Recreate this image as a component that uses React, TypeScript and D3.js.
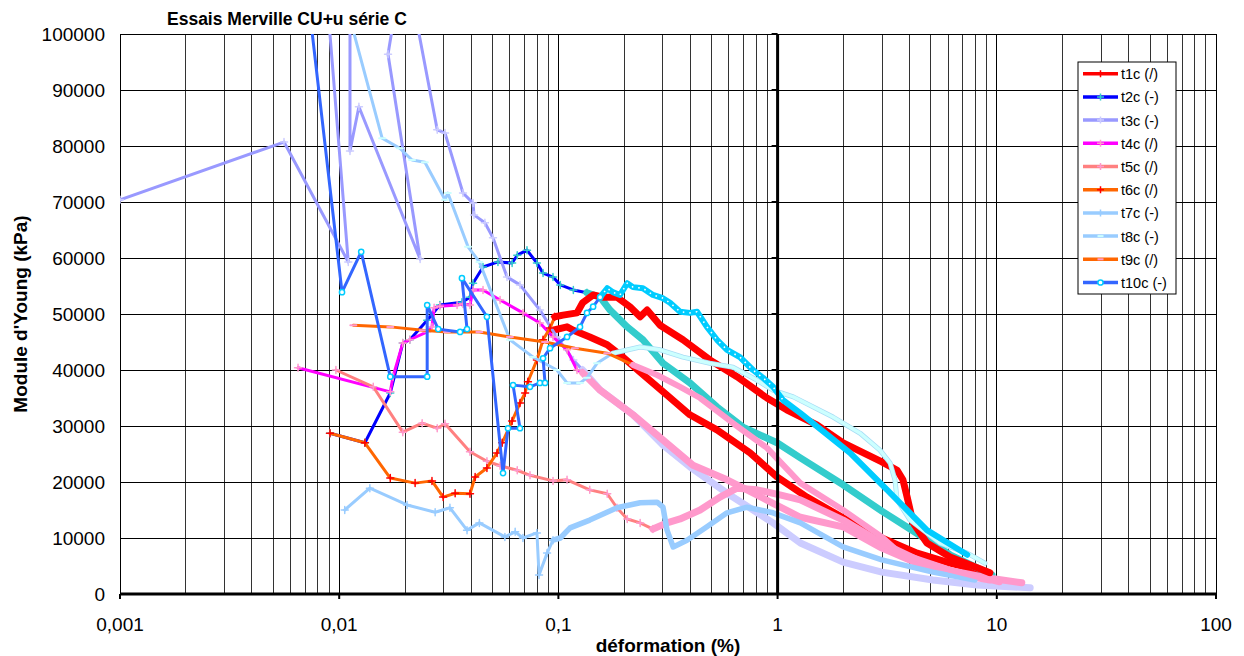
import React from 'react';
import * as d3 from 'd3';

type P = [number, number];

const titleText = 'Essais Merville CU+u série C';
const xAxisTitle = 'déformation (%)';
const yAxisTitle = "Module d'Young (kPa)";
const xTickValues = [0.001, 0.01, 0.1, 1, 10, 100];
const xTickLabels = ['0,001', '0,01', '0,1', '1', '10', '100'];
const yTickValues = [0, 10000, 20000, 30000, 40000, 50000, 60000, 70000, 80000, 90000, 100000];

const t1cSparse: P[] = [];
const t1cDense: P[] = [[0.0945, 47100], [0.1095, 47700], [0.117, 47100], [0.139, 45900], [0.167, 44500], [0.197, 42300], [0.236, 39600], [0.313, 35500], [0.398, 32000], [0.529, 29300], [0.749, 25200], [0.994, 20900], [1.36, 17300], [1.99, 13600], [2.99, 10000], [4.33, 7300], [6.12, 5500], [8.83, 3900]];

const t2cSparse: P[] = [[0.00908, 28700], [0.0131, 27000], [0.0171, 35900], [0.0195, 44800], [0.021, 45400], [0.0252, 48900], [0.0288, 51600], [0.0363, 52100], [0.0395, 53000], [0.0408, 55500], [0.0453, 58400], [0.053, 59300], [0.0615, 59100], [0.0649, 60500], [0.0719, 61400], [0.0798, 59100], [0.0851, 57300], [0.0945, 56600], [0.102, 55200], [0.117, 54300], [0.135, 53800]];
const t2cDense: P[] = [[0.155, 53000], [0.172, 50700], [0.206, 47700], [0.243, 45400], [0.3, 41200], [0.398, 37700], [0.529, 33400], [0.695, 29800], [0.994, 27000], [1.27, 24300], [1.99, 19500], [2.99, 14800], [4.02, 11600], [6.12, 7000], [9.51, 3400]];

const t3cSparse: P[] = [[0.001, 70400], [0.0056, 80700], [0.011, 59300], [0.0081, 124000], [0.0112, 120000], [0.0112, 79100], [0.0123, 87000], [0.0234, 59800], [0.0167, 96400], [0.0198, 114000], [0.028, 82900], [0.0304, 82300], [0.0367, 71600], [0.0408, 69800], [0.0412, 67700], [0.0462, 66300], [0.0503, 63600], [0.0583, 56600], [0.0668, 55200], [0.0824, 50700], [0.0984, 45900], [0.117, 41800], [0.129, 40000]];
const t3cDense: P[] = [[0.155, 36400], [0.219, 32000], [0.3, 26600], [0.398, 22700], [0.588, 18000], [0.953, 12700], [1.27, 9100], [1.99, 5700], [2.99, 3900], [5.11, 2500], [8.12, 1600], [14.2, 1100]];

const t4cSparse: P[] = [[0.00649, 40400], [0.0171, 36100], [0.0176, 38800], [0.0195, 44800], [0.021, 45400], [0.0252, 46800], [0.0265, 47700], [0.0271, 51100], [0.0288, 51400], [0.0345, 51600], [0.0367, 51800], [0.0395, 51600], [0.0408, 54300], [0.0453, 54300], [0.0542, 52500], [0.0689, 50200], [0.0824, 48400], [0.0945, 45900], [0.1095, 43600], [0.1216, 40000], [0.129, 39500]];
const t4cDense: P[] = [[0.155, 36400], [0.219, 32000], [0.3, 27500], [0.411, 23000], [0.588, 20400], [0.725, 18600], [0.953, 16200], [1.27, 13700], [1.99, 12000], [2.99, 8200], [5.11, 4300], [9.3, 2500]];

const t5cSparse: P[] = [[0.00966, 40000], [0.0143, 37000], [0.0195, 28900], [0.0239, 30500], [0.028, 29600], [0.0304, 30400], [0.0395, 25400], [0.0472, 23700], [0.0542, 22900], [0.0649, 22100], [0.0742, 21200], [0.0945, 20200], [0.1095, 20400], [0.139, 18600], [0.167, 17900], [0.185, 15400], [0.206, 13400], [0.236, 12700], [0.27, 11600]];
const t5cDense: P[] = [[0.313, 12700], [0.359, 13400], [0.443, 15000], [0.546, 17300], [0.653, 18900], [0.806, 18600], [1.025, 17700], [1.27, 16800], [1.99, 13200], [2.99, 9100], [5.11, 4800], [9.0, 2900], [13.0, 2000]];

const t6cSparse: P[] = [[0.00908, 28700], [0.0131, 27000], [0.0171, 20700], [0.0222, 19800], [0.0265, 20200], [0.0298, 17300], [0.0338, 18000], [0.0395, 17900], [0.0417, 20900], [0.0472, 22500], [0.0525, 25200], [0.0554, 27000], [0.0615, 30900], [0.0668, 34100], [0.0705, 35900], [0.0726, 37900], [0.0798, 41800], [0.0851, 45400], [0.0916, 47500], [0.0963, 49500]];
const t6cDense: P[] = [[0.105, 49800], [0.1216, 50200], [0.129, 52000], [0.144, 53400], [0.16, 53000], [0.185, 53000], [0.212, 51300], [0.236, 49500], [0.254, 50700], [0.291, 48000], [0.37, 45400], [0.491, 41800], [0.653, 38800], [0.894, 35000], [1.1, 32900], [1.51, 30200], [1.99, 27000], [2.99, 23600], [3.51, 22100], [3.73, 20400], [3.9, 17300], [4.15, 12700], [4.8, 9100], [6.12, 6600], [9.3, 3800]];

const t7cSparse: P[] = [[0.0106, 15000], [0.0138, 18900], [0.0204, 15900], [0.0274, 14600], [0.032, 15400], [0.0383, 11400], [0.0436, 12700], [0.057, 10200], [0.0635, 11100], [0.0689, 10000], [0.0798, 10900], [0.0816, 3400], [0.0888, 7300], [0.0945, 9600]];
const t7cDense: P[] = [[0.102, 10000], [0.113, 11800], [0.139, 13200], [0.185, 15400], [0.236, 16300], [0.282, 16400], [0.3, 15500], [0.313, 11400], [0.334, 8400], [0.386, 9600], [0.476, 12000], [0.588, 14500], [0.725, 15500], [0.953, 14500], [1.27, 12700], [1.99, 8400], [2.99, 6100], [5.11, 3900], [7.95, 2500]];

const t8cSparse: P[] = [[0.008, 124000], [0.0157, 81400], [0.0189, 79600], [0.0215, 77500], [0.0246, 77100], [0.0304, 70400], [0.0313, 71600], [0.0387, 62000], [0.0436, 59300], [0.0601, 45400], [0.0767, 42300], [0.0984, 40000], [0.1095, 37700], [0.1255, 37700], [0.135, 38600], [0.15, 41200], [0.177, 43000]];
const t8cDense: P[] = [[0.236, 44100], [0.291, 43600], [0.37, 42300], [0.491, 41200], [0.626, 40500], [0.788, 38400], [0.953, 36400], [1.18, 35200], [1.79, 31600], [2.38, 28700], [2.93, 25700], [3.26, 23400], [3.43, 20400], [3.51, 16800], [4.02, 13200], [5.51, 9100], [7.33, 7300], [8.83, 5500]];

const t9cSparse: P[] = [[0.0116, 48000], [0.0171, 47700], [0.0241, 47100], [0.031, 46800], [0.0436, 46800], [0.0601, 45900], [0.0869, 45000], [0.119, 43900], [0.167, 43000], [0.219, 40900]];
const t9cDense: P[] = [[0.282, 39100], [0.359, 37000], [0.443, 35000], [0.626, 30500], [0.894, 26100], [1.27, 19800], [1.99, 15000], [2.99, 10200], [3.62, 7300], [6.12, 4300], [10.3, 2100]];

const t10cSparse: P[] = [[0.00603, 133000], [0.0103, 53900], [0.0126, 61100], [0.0171, 38800], [0.0252, 38800], [0.0252, 51600], [0.0283, 47300], [0.0356, 46800], [0.0383, 47300], [0.0363, 56400], [0.0472, 49500], [0.0559, 21600], [0.0589, 29600], [0.0668, 29600], [0.0621, 37300], [0.0742, 37000], [0.0824, 37700], [0.0869, 37700], [0.0851, 42100], [0.0916, 43900], [0.1095, 45900], [0.1255, 47700], [0.135, 50200], [0.144, 51300], [0.155, 53000]];
const t10cDense: P[] = [[0.167, 54600], [0.177, 53900], [0.191, 53400], [0.206, 55500], [0.219, 54800], [0.243, 54600], [0.27, 53400], [0.297, 52900], [0.323, 52000], [0.359, 50400], [0.398, 50200], [0.429, 50400], [0.476, 47700], [0.529, 45400], [0.588, 43600], [0.673, 42300], [0.772, 40000], [0.858, 38600], [0.953, 37000], [1.06, 34600], [1.27, 32300], [2.14, 25200], [3.16, 18600], [4.8, 11400], [7.33, 7000]];

type Marker = 'plus' | 'dash' | 'ring';
interface Series {
  name: string;
  sparse: P[];
  dense: P[];
  line: string;
  marker: Marker;
  mColor: string;
  dColor: string;
  dWidth: number;
  dEdge?: string;
}

const seriesList: Series[] = [
  { name: 't1c (/)', sparse: t1cSparse, dense: t1cDense, line: '#FF0000', marker: 'plus', mColor: '#FF0000', dColor: '#FF0000', dWidth: 7 },
  { name: 't2c (-)', sparse: t2cSparse, dense: t2cDense, line: '#0000FF', marker: 'plus', mColor: '#33CCCC', dColor: '#33CCCC', dWidth: 7 },
  { name: 't3c (-)', sparse: t3cSparse, dense: t3cDense, line: '#9999FF', marker: 'plus', mColor: '#CCCCFF', dColor: '#CCCCFF', dWidth: 7 },
  { name: 't4c (/)', sparse: t4cSparse, dense: t4cDense, line: '#FF00FF', marker: 'plus', mColor: '#FF99CC', dColor: '#FF99CC', dWidth: 7 },
  { name: 't5c (/)', sparse: t5cSparse, dense: t5cDense, line: '#FF8080', marker: 'plus', mColor: '#FF99CC', dColor: '#FF99CC', dWidth: 7 },
  { name: 't6c (/)', sparse: t6cSparse, dense: t6cDense, line: '#FF6600', marker: 'plus', mColor: '#FF0000', dColor: '#FF0000', dWidth: 7 },
  { name: 't7c (-)', sparse: t7cSparse, dense: t7cDense, line: '#99CCFF', marker: 'plus', mColor: '#99CCFF', dColor: '#99CCFF', dWidth: 5.5 },
  { name: 't8c (-)', sparse: t8cSparse, dense: t8cDense, line: '#99CCFF', marker: 'dash', mColor: '#CCFFFF', dColor: '#CCFFFF', dWidth: 3.5, dEdge: '#A8DDF5' },
  { name: 't9c (/)', sparse: t9cSparse, dense: t9cDense, line: '#FF6600', marker: 'dash', mColor: '#FF99CC', dColor: '#FF99CC', dWidth: 6 },
  { name: 't10c (-)', sparse: t10cSparse, dense: t10cDense, line: '#3366FF', marker: 'ring', mColor: '#00CCFF', dColor: '#00CCFF', dWidth: 6 },
];

const FONT = "Arial, 'Liberation Sans', sans-serif";

function markerEl(kind: Marker, cx: number, cy: number, color: string, key: string) {
  if (kind === 'plus') {
    return <path key={key} d={`M${cx - 3.5},${cy}H${cx + 3.5}M${cx},${cy - 3.5}V${cy + 3.5}`} stroke={color} strokeWidth={1.5} fill="none" />;
  }
  if (kind === 'dash') {
    return <path key={key} d={`M${cx - 3},${cy}H${cx + 3}`} stroke={color} strokeWidth={2} fill="none" />;
  }
  return <circle key={key} cx={cx} cy={cy} r={2.6} fill="#FFFFFF" stroke={color} strokeWidth={1.5} />;
}

export default function App() {
  const W = 1244;
  const H = 656;
  const left = 120, right = 1216, top = 34, bottom = 594;
  const x = d3.scaleLog().domain([0.001, 100]).range([left, right]);
  const y = d3.scaleLinear().domain([0, 100000]).range([bottom, top]);
  const line = d3.line<P>().x(d => x(d[0])).y(d => y(d[1]));

  const gridX: number[] = [];
  for (let e = -3; e <= 1; e++) {
    for (let m = 1; m <= 9; m++) gridX.push(m * Math.pow(10, e));
  }
  gridX.push(100);

  const legendX = 1078, legendY = 62, legendW = 98, legendH = 232;
  const legendStep = 23.2;
  const legendFirst = 73.7;

  return (
    <svg width={W} height={H} viewBox={`0 0 ${W} ${H}`} style={{ position: 'absolute', left: 0, top: 0, display: 'block', background: '#fff' }}>
      <defs>
        <clipPath id="plotClip">
          <rect x={left} y={top} width={right - left} height={bottom - top} />
        </clipPath>
      </defs>
      <rect x={0} y={0} width={W} height={H} fill="#fff" />
      <g stroke="#000" strokeWidth={1} shapeRendering="crispEdges">
        {gridX.map((v, i) => (
          <line key={'gx' + i} x1={x(v)} x2={x(v)} y1={top} y2={bottom} stroke={i % 9 === 0 || v === 100 ? '#000' : '#333'} />
        ))}
        {yTickValues.map(v => (
          <line key={'gy' + v} x1={left} x2={right} y1={y(v)} y2={y(v)} />
        ))}
      </g>
      <g clipPath="url(#plotClip)" fill="none" strokeLinejoin="round" strokeLinecap="round">
        {seriesList.map(s => {
          const densePts: P[] = s.sparse.length ? [s.sparse[s.sparse.length - 1], ...s.dense] : s.dense;
          const ringPts = s.marker === 'ring' ? densePts.filter(p => p[0] < 1.1) : [];
          return (
            <g key={s.name}>
              {s.sparse.length > 1 && <path d={line(s.sparse) || ''} stroke={s.line} strokeWidth={3} />}
              {s.dEdge && <path d={line(densePts) || ''} stroke={s.dEdge} strokeWidth={s.dWidth + 1.5} />}
              <path d={line(densePts) || ''} stroke={s.dColor} strokeWidth={s.dWidth} />
              {ringPts.length > 1 && (
                <path d={line(ringPts) || ''} stroke="#FFFFFF" strokeWidth={1.6} strokeDasharray="1.5 5" strokeLinecap="butt" />
              )}
              {s.sparse.map((p, i) => markerEl(s.marker, x(p[0]), y(p[1]), s.mColor, s.name + i))}
            </g>
          );
        })}
      </g>
      <line x1={left} x2={right} y1={bottom} y2={bottom} stroke="#000" strokeWidth={3} />
      {xTickValues.map(v => (
        <line key={'xt' + v} x1={x(v)} x2={x(v)} y1={bottom} y2={bottom + 5} stroke="#000" strokeWidth={2} />
      ))}
      <line x1={x(1)} x2={x(1)} y1={top} y2={bottom} stroke="#000" strokeWidth={3} />
      {yTickValues.map(v => (
        <line key={'yt' + v} x1={x(1) - 6} x2={x(1)} y1={y(v)} y2={y(v)} stroke="#000" strokeWidth={2} />
      ))}
      <g fontFamily={FONT} fontSize={19} fill="#000">
        {yTickValues.map(v => (
          <text key={'yl' + v} x={105} y={y(v)} dy="0.35em" textAnchor="end">{String(v)}</text>
        ))}
        {xTickValues.map((v, i) => (
          <text key={'xl' + v} x={x(v)} y={631} textAnchor="middle">{xTickLabels[i]}</text>
        ))}
      </g>
      <text x={167} y={25} fontFamily={FONT} fontSize={17.5} fontWeight="bold">{titleText}</text>
      <text x={(left + right) / 2} y={652} fontFamily={FONT} fontSize={19} fontWeight="bold" textAnchor="middle">{xAxisTitle}</text>
      <text transform={`translate(27, ${(top + bottom) / 2}) rotate(-90)`} fontFamily={FONT} fontSize={19} fontWeight="bold" textAnchor="middle">{yAxisTitle}</text>
      <rect x={legendX} y={legendY} width={legendW} height={legendH} fill="#fff" stroke="#000" strokeWidth={1} />
      {seriesList.map((s, i) => {
        const ly = legendFirst + i * legendStep;
        return (
          <g key={'lg' + s.name}>
            <line x1={1083} x2={1118} y1={ly} y2={ly} stroke={s.line} strokeWidth={3.5} />
            {markerEl(s.marker, 1100.5, ly, s.mColor, 'lm' + i)}
            <text x={1121} y={ly + 5.5} fontFamily={FONT} fontSize={14.5} fill="#000">{s.name}</text>
          </g>
        );
      })}
    </svg>
  );
}
